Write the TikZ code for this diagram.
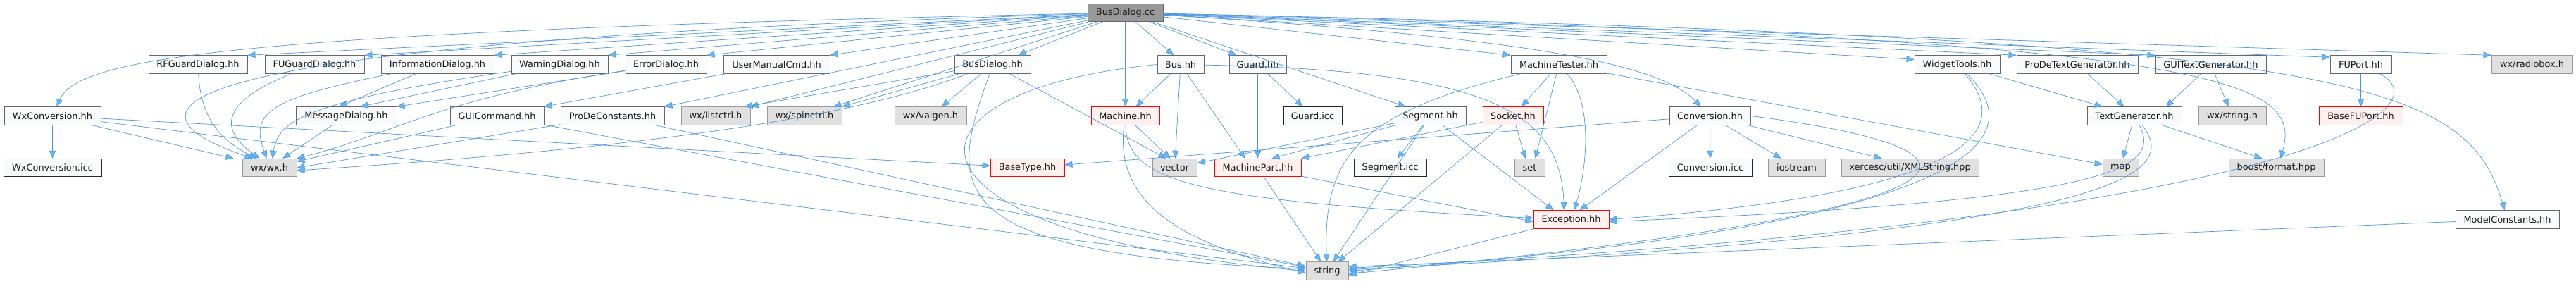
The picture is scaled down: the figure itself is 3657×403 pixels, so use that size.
\documentclass[tikz,border=0pt]{standalone}
\usepackage{fontspec}
\usetikzlibrary{arrows.meta,shapes}
\newfontfamily\dvs{DejaVu Sans}
\definecolor{edgeblue}{HTML}{4F97DC}
\definecolor{tipblue}{HTML}{63B8FF}
\definecolor{rootgray}{HTML}{999999}
\definecolor{bordergray}{HTML}{666666}
\definecolor{localwhite}{HTML}{F9FAFB}
\definecolor{sysgray}{HTML}{E0E0E0}
\definecolor{sysborder}{HTML}{999999}
\definecolor{truncpink}{HTML}{FFF0F0}
\tikzset{
    basic/.style  = {draw, rectangle, inner sep=0pt, minimum height=25.5pt, line width=0.9pt,
                     font=\dvs\fontsize{12.9}{15}\selectfont, text=black!90},
    root/.style   = {basic, fill=rootgray, draw=bordergray},
    local/.style  = {basic, fill=localwhite, draw=bordergray},
    inline/.style = {basic, fill=localwhite, draw=black!85},
    system/.style = {basic, fill=sysgray, draw=sysborder},
    trunc/.style  = {basic, fill=truncpink, draw=red},
    dep/.style    = {-{Triangle[length=11pt,width=9pt,fill=tipblue]}, draw=edgeblue, line width=0.7pt}
}
\begin{document}
\begin{tikzpicture}[x=1pt,y=-1pt]
\useasboundingbox (0,0) rectangle (3657,403);
% row 1
\node[root, minimum width=107pt] (bdcc) at (1597.5,18) {BusDialog.cc};
% row 2
\node[local, minimum width=140pt] (rfg) at (281,91.5) {RFGuardDialog.hh};
\node[local, minimum width=141pt] (fug) at (446.5,91.5) {FUGuardDialog.hh};
\node[local, minimum width=160pt] (info) at (621,91.5) {InformationDialog.hh};
\node[local, minimum width=137pt] (warn) at (794.5,91.5) {WarningDialog.hh};
\node[local, minimum width=115pt] (err) at (945.5,91.5) {ErrorDialog.hh};
\node[local, minimum width=151pt] (umc) at (1102.5,91.5) {UserManualCmd.hh};
\node[local, minimum width=108pt] (bdhh) at (1409,91.5) {BusDialog.hh};
\node[local, minimum width=66pt] (bus) at (1676,91.5) {Bus.hh};
\node[local, minimum width=81pt] (guard) at (1785.5,91.5) {Guard.hh};
\node[local, minimum width=136pt] (mtest) at (2213,91.5) {MachineTester.hh};
\node[local, minimum width=121pt] (widget) at (2778.5,91.5) {WidgetTools.hh};
\node[local, minimum width=172pt] (pdtg) at (2949,91.5) {ProDeTextGenerator.hh};
\node[local, minimum width=157pt] (guitg) at (3138.5,91.5) {GUITextGenerator.hh};
\node[local, minimum width=87pt] (fuport) at (3351.5,91.5) {FUPort.hh};
\node[system, minimum width=115pt] (radio) at (3594.5,91.5) {wx/radiobox.h};
% row 3
\node[local, minimum width=137pt] (wxconvhh) at (74.5,164.5) {WxConversion.hh};
\node[local, minimum width=143pt] (msg) at (491.5,164.5) {MessageDialog.hh};
\node[local, minimum width=133pt] (guicmd) at (705.5,164.5) {GUICommand.hh};
\node[local, minimum width=147pt] (pdc) at (869.5,164.5) {ProDeConstants.hh};
\node[system, minimum width=98pt] (listctrl) at (1016,164.5) {wx/listctrl.h};
\node[system, minimum width=106pt] (spinctrl) at (1142,164.5) {wx/spinctrl.h};
\node[system, minimum width=102pt] (valgen) at (1321,164.5) {wx/valgen.h};
\node[trunc, minimum width=97pt] (machine) at (1597.5,164.5) {Machine.hh};
\node[inline, minimum width=83pt] (guardicc) at (1863.5,164.5) {Guard.icc};
\node[local, minimum width=101pt] (segment) at (2030.5,164.5) {Segment.hh};
\node[trunc, minimum width=86pt] (socket) at (2148,164.5) {Socket.hh};
\node[local, minimum width=115pt] (conv) at (2427.5,164.5) {Conversion.hh};
\node[local, minimum width=134pt] (textgen) at (3030,164.5) {TextGenerator.hh};
\node[system, minimum width=96pt] (wxstring) at (3169,164.5) {wx/string.h};
\node[trunc, minimum width=119pt] (basefu) at (3351.5,164.5) {BaseFUPort.hh};
% row 4
\node[inline, minimum width=139pt] (wxconvicc) at (74.5,238) {WxConversion.icc};
\node[system, minimum width=77pt] (wxwx) at (382.5,238) {wx/wx.h};
\node[trunc, minimum width=105pt] (basetype) at (1458.5,238) {BaseType.hh};
\node[system, minimum width=63pt] (vector) at (1667.5,238) {vector};
\node[trunc, minimum width=123pt] (mpart) at (1785.5,238) {MachinePart.hh};
\node[inline, minimum width=103pt] (segicc) at (1973.5,238) {Segment.icc};
\node[system, minimum width=43pt] (set) at (2171.5,238) {set};
\node[inline, minimum width=118pt] (convicc) at (2428,238) {Conversion.icc};
\node[system, minimum width=81pt] (iostream) at (2550.5,238) {iostream};
\node[system, minimum width=195pt] (xerces) at (2711.5,238) {xercesc/util/XMLString.hpp};
\node[system, minimum width=51pt] (map) at (3010.5,238) {map};
\node[system, minimum width=135pt] (boost) at (3231.5,238) {boost/format.hpp};
% row 5 and 6
\node[trunc, minimum width=107pt] (exc) at (2230.5,311.5) {Exception.hh};
\node[local, minimum width=147pt] (modelc) at (3559.5,311.5) {ModelConstants.hh};
\node[system, minimum width=60pt] (string) at (1884,384.5) {string};

% includes of BusDialog.cc
\draw[dep] (bdcc) .. controls (300,45) and (110,85) .. (wxconvhh);
\draw[dep] (bdcc) .. controls (150,62) and (170,160) .. ([xshift=-24pt]wxwx.north);
\draw[dep] (bdcc) -- (rfg.north east);
\draw[dep] (bdcc) -- (fug.north east);
\draw[dep] (bdcc) -- (info.north east);
\draw[dep] (bdcc) -- (warn.north east);
\draw[dep] (bdcc) -- (err.north east);
\draw[dep] (bdcc) -- (umc.north east);
\draw[dep] (bdcc) -- (pdc.north east);
\draw[dep] (bdcc) -- (listctrl.north east);
\draw[dep] (bdcc) -- ([xshift=-12pt]spinctrl.north east);
\draw[dep] (bdcc) -- ([xshift=-18pt]bdhh.north east);
\draw[dep] (bdcc) -- ([xshift=-10pt]bus.north);
\draw[dep] (bdcc) -- ([xshift=-30pt]guard.north);
\draw[dep] (bdcc) -- (machine);
\draw[dep] (bdcc) -- ([xshift=-35pt]segment.north);
\draw[dep] (bdcc) .. controls (2200,55) and (2360,95) .. (conv);
\draw[dep] (bdcc) -- (mtest.north west);
\draw[dep] (bdcc) -- ([yshift=-6pt]widget.north west);
\draw[dep] (bdcc) -- (pdtg.north west);
\draw[dep] (bdcc) -- (guitg.north west);
\draw[dep] (bdcc) -- ([yshift=-3pt]fuport.north west);
\draw[dep] (bdcc) -- (radio.north west);
\draw[dep] (bdcc) .. controls (3150,55) and (3270,110) .. ([xshift=6pt]boost.north);
\draw[dep] (bdcc) .. controls (3330,55) and (3500,110) .. (modelc);

% dialogs and wx
\draw[dep] (wxconvhh) -- (wxconvicc);
\draw[dep] (wxconvhh) -- ([xshift=-12pt]wxwx.north west);
\draw[dep] (wxconvhh) -- (basetype);
\draw[dep] (wxconvhh) -- (string);
\draw[dep] (rfg) .. controls (285,170) and (315,200) .. ([xshift=-18pt]wxwx.north);
\draw[dep] (fug) .. controls (300,150) and (320,190) .. ([xshift=-14pt]wxwx.north);
\draw[dep] (info) .. controls (380,140) and (355,160) .. ([xshift=-4pt]wxwx.north);
\draw[dep] (info) -- ([xshift=-10pt]msg.north);
\draw[dep] (warn) .. controls (420,145) and (395,175) .. ([xshift=4pt]wxwx.north);
\draw[dep] (warn) -- ([xshift=20pt]msg.north);
\draw[dep] (err) -- (msg.north east);
\draw[dep] (err) .. controls (620,140) and (560,190) .. (wxwx.north east);
\draw[dep] (msg) -- ([xshift=-20pt]wxwx.north east);
\draw[dep] (umc) -- (guicmd.north east);
\draw[dep] (guicmd) -- (wxwx);
\draw[dep] (guicmd) -- (string);
\draw[dep] (pdc) -- (wxwx.east);
\draw[dep] (pdc) -- (string);

% BusDialog.hh
\draw[dep] (bdhh) -- ([xshift=-8pt]listctrl.north east);
\draw[dep] (bdhh) -- (spinctrl.north east);
\draw[dep] (bdhh) -- (valgen);
\draw[dep] (bdhh) .. controls (1240,155) and (1000,205) .. ([yshift=-4pt]wxwx.east);
\draw[dep] (bdhh) -- ([xshift=-12pt]vector.north);
\draw[dep] ([xshift=-4pt]bdhh.south) .. controls (1345,270) and (1330,360) .. ([yshift=3pt]string.west);

% machine model headers
\draw[dep] (bus) -- ([xshift=15pt]machine.north);
\draw[dep] (bus) -- (vector);
\draw[dep] (bus) -- ([xshift=-18pt]mpart.north);
\draw[dep] (bus.west) .. controls (1250,130) and (1250,330) .. (string.west);
\draw[dep] (bus) .. controls (2120,100) and (2215,160) .. ([xshift=-10pt]exc.north);
\draw[dep] (guard) -- (mpart);
\draw[dep] (guard) -- (guardicc);
\draw[dep] (machine) -- ([xshift=-6pt]vector.north);
\draw[dep] (machine) .. controls (1580,300) and (1700,350) .. ([yshift=-3pt]string.west);
\draw[dep] (machine) .. controls (1600,260) and (1700,285) .. ([yshift=2pt]exc.west);
\draw[dep] (mpart) -- (string);
\draw[dep] (mpart) -- ([yshift=-3pt]exc.west);
\draw[dep] (mtest) -- (socket);
\draw[dep] (mtest) -- ([xshift=8pt]set.north);
\draw[dep] (mtest) .. controls (2265,150) and (2250,250) .. ([xshift=4pt]exc.north);
\draw[dep] (mtest) -- (map);
\draw[dep] (mtest) .. controls (1930,160) and (1878,220) .. (string);
\draw[dep] (segment) -- (segicc);
\draw[dep] (segment) -- ([xshift=-25pt]exc.north);
\draw[dep] (segment) -- ([xshift=20pt]mpart.north);
\draw[dep] (segment) -- (vector);
\draw[dep] (segment) -- (string);
\draw[dep] (socket) -- ([xshift=-6pt]set.north);
\draw[dep] (socket) -- (string);
\draw[dep] (socket) -- (mpart.north east);

% utilities
\draw[dep] (conv) -- (convicc);
\draw[dep] (conv) -- (iostream);
\draw[dep] (conv) -- ([xshift=-40pt]xerces.north);
\draw[dep] (conv) -- ([xshift=12pt]exc.north);
\draw[dep] (conv) -- (basetype);
\draw[dep] (conv.east) .. controls (2880,215) and (2850,300) .. ([yshift=-4pt]string.east);
\draw[dep] (widget) -- (textgen);
\draw[dep] (widget) .. controls (2845,170) and (2850,270) .. (exc.east);
\draw[dep] (widget) .. controls (2880,190) and (2840,320) .. (string.east);
\draw[dep] (pdtg) -- (textgen);
\draw[dep] (guitg) -- ([xshift=45pt]textgen.north);
\draw[dep] (guitg) -- (wxstring);
\draw[dep] (textgen) -- (map);
\draw[dep] (textgen) -- ([xshift=-20pt]boost.north);
\draw[dep] (textgen) .. controls (3070,240) and (3000,285) .. ([yshift=-3pt]exc.east);
\draw[dep] (textgen) .. controls (3100,250) and (3000,330) .. ([yshift=2pt]string.east);
\draw[dep] (fuport) -- (basefu);
\draw[dep] (fuport) .. controls (3470,150) and (3300,310) .. ([yshift=4pt]string.east);
\draw[dep] (modelc) -- ([yshift=6pt]string.east);
\draw[dep] (exc) -- ([yshift=-6pt]string.east);
\end{tikzpicture}
\end{document}
